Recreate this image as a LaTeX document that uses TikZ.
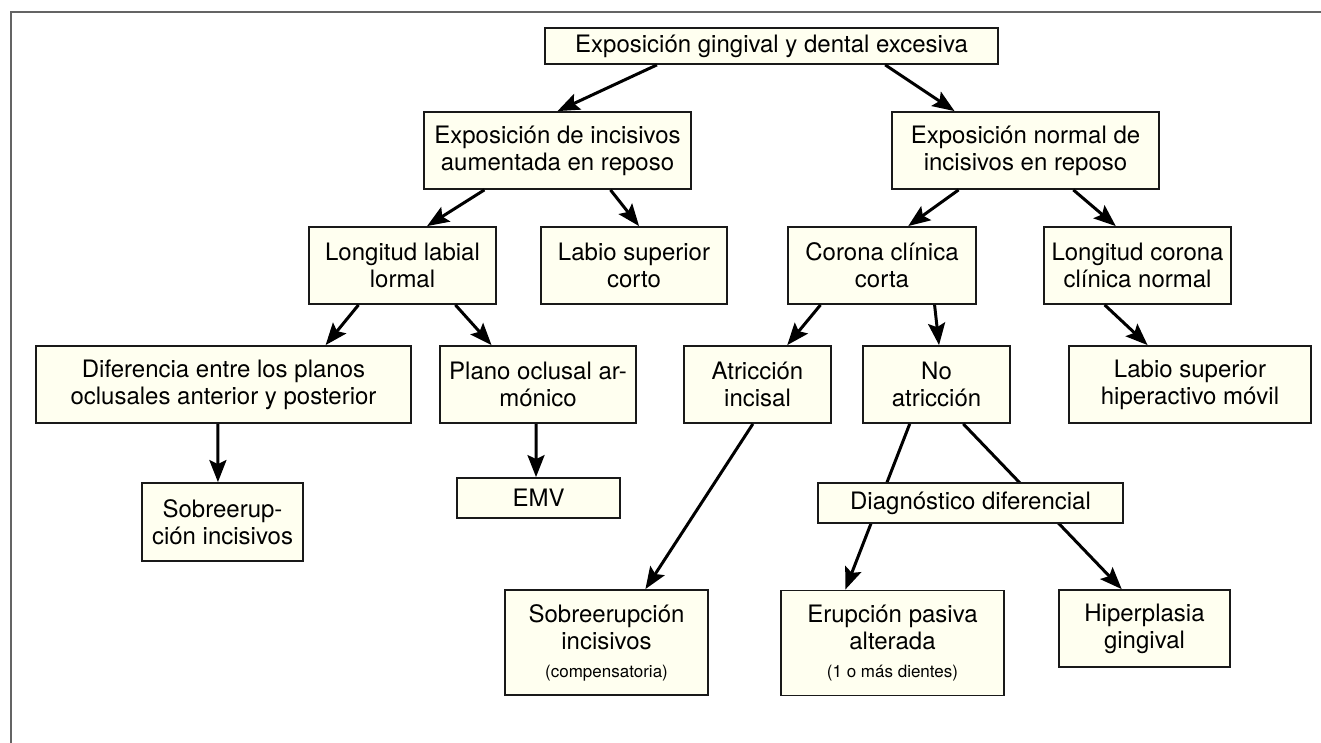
\documentclass[tikz,border=0pt]{standalone}
\usepackage{fontspec}
\setmainfont{TeX Gyre Heros}
\usetikzlibrary{arrows.meta,calc}
\definecolor{boxfill}{RGB}{255,255,240}
\definecolor{framegray}{RGB}{100,100,100}
\newcommand{\smalltxt}[1]{{\fontsize{17}{20}\selectfont #1}}
\begin{document}
\begin{tikzpicture}[x=1pt,y=-1pt,
  box/.style={draw=black!90, line width=1.8pt, fill=boxfill, inner sep=0pt, align=center,
    font=\fontsize{24}{27}\selectfont},
  arr/.style={line width=3pt, -{Stealth[length=22pt,width=17pt,inset=4pt]}}]
\useasboundingbox (0,0) rectangle (1321,743);
\draw[framegray, line width=2pt] (10.5,743) -- (10.5,12) -- (1321,12);

\node[box, minimum width=453pt, minimum height=36pt] (top) at (771.5,46) {Exposición gingival y dental excesiva};
\node[box, minimum width=267pt, minimum height=77pt] (A) at (557.5,150.5) {Exposición de incisivos\\aumentada en reposo};
\node[box, minimum width=267pt, minimum height=77pt] (B) at (1025.5,150.5) {Exposición normal de\\incisivos en reposo};
\node[box, minimum width=187pt, minimum height=77pt] (LL) at (402.5,265.5) {Longitud labial\\lormal};
\node[box, minimum width=186pt, minimum height=77pt] (LSC) at (634,265.5) {Labio superior\\corto};
\node[box, minimum width=188pt, minimum height=77pt] (CCC) at (882,265.5) {Corona clínica\\corta};
\node[box, minimum width=187pt, minimum height=77pt] (LCN) at (1137.5,265.5) {Longitud corona\\clínica normal};
\node[box, minimum width=375pt, minimum height=77pt] (DIF) at (223.5,384.5) {Diferencia entre los planos\\oclusales anterior y posterior};
\node[box, minimum width=196pt, minimum height=77pt] (PLA) at (538,384.5) {Plano oclusal ar-\\mónico};
\node[box, minimum width=147pt, minimum height=77pt] (ATR) at (757.5,384.5) {Atricción\\incisal};
\node[box, minimum width=147pt, minimum height=77pt] (NOA) at (936.5,384.5) {No\\atricción};
\node[box, minimum width=242pt, minimum height=77pt] (LSH) at (1190,384.5) {Labio superior\\hiperactivo móvil};
\node[box, minimum width=163pt, minimum height=40pt] (EMV) at (538.5,498) {EMV};
\node[box, minimum width=161pt, minimum height=78pt] (SOB1) at (222.5,522) {Sobreerup-\\ción incisivos};
\node[box, minimum width=203pt, minimum height=105pt] (SOB2) at (606.5,642.5) {Sobreerupción\\incisivos\\[1pt]\smalltxt{(compensatoria)}};
\node[box, minimum width=223pt, minimum height=105pt] (ERU) at (892.5,643) {Erupción pasiva\\alterada\\[1pt]\smalltxt{(1 o más dientes)}};
\node[box, minimum width=171pt, minimum height=77pt] (HIP) at (1144.5,628.5) {Hiperplasia\\gingival};

\draw[arr] ($(top.south west)!0.248!(top.south east)$) -- ($(A.north west)!0.5!(A.north east)$);
\draw[arr] ($(top.south west)!0.75!(top.south east)$) -- ($(B.north west)!0.236!(B.north east)$);
\draw[arr] ($(A.south west)!0.228!(A.south east)$) -- ($(LL.north west)!0.63!(LL.north east)$);
\draw[arr] ($(A.south west)!0.697!(A.south east)$) -- ($(LSC.north west)!0.527!(LSC.north east)$);
\draw[arr] ($(B.south west)!0.251!(B.south east)$) -- ($(CCC.north west)!0.638!(CCC.north east)$);
\draw[arr] ($(B.south west)!0.678!(B.south east)$) -- ($(LCN.north west)!0.385!(LCN.north east)$);
\draw[arr] ($(LL.south west)!0.267!(LL.south east)$) -- ($(DIF.north west)!0.771!(DIF.north east)$);
\draw[arr] ($(LL.south west)!0.78!(LL.south east)$) -- ($(PLA.north west)!0.265!(PLA.north east)$);
\draw[arr] ($(DIF.south west)!0.485!(DIF.south east)$) -- ($(SOB1.north west)!0.472!(SOB1.north east)$);
\draw[arr] ($(PLA.south west)!0.49!(PLA.south east)$) -- ($(EMV.north west)!0.485!(EMV.north east)$);
\draw[arr] ($(CCC.south west)!0.176!(CCC.south east)$) -- ($(ATR.north west)!0.70!(ATR.north east)$);
\draw[arr] ($(CCC.south west)!0.777!(CCC.south east)$) -- ($(NOA.north west)!0.517!(NOA.north east)$);
\draw[arr] ($(LCN.south west)!0.326!(LCN.south east)$) -- ($(LSH.north west)!0.326!(LSH.north east)$);
\draw[arr] ($(ATR.south west)!0.469!(ATR.south east)$) -- ($(SOB2.north west)!0.69!(SOB2.north east)$);
\draw[arr] ($(NOA.south west)!0.32!(NOA.south east)$) -- ($(ERU.north west)!0.29!(ERU.north east)$);
\draw[arr] ($(NOA.south west)!0.68!(NOA.south east)$) -- ($(HIP.north west)!0.368!(HIP.north east)$);

\node[box, minimum width=305pt, minimum height=40pt] (DIAG) at (970.5,503) {Diagnóstico diferencial};
\end{tikzpicture}
\end{document}
